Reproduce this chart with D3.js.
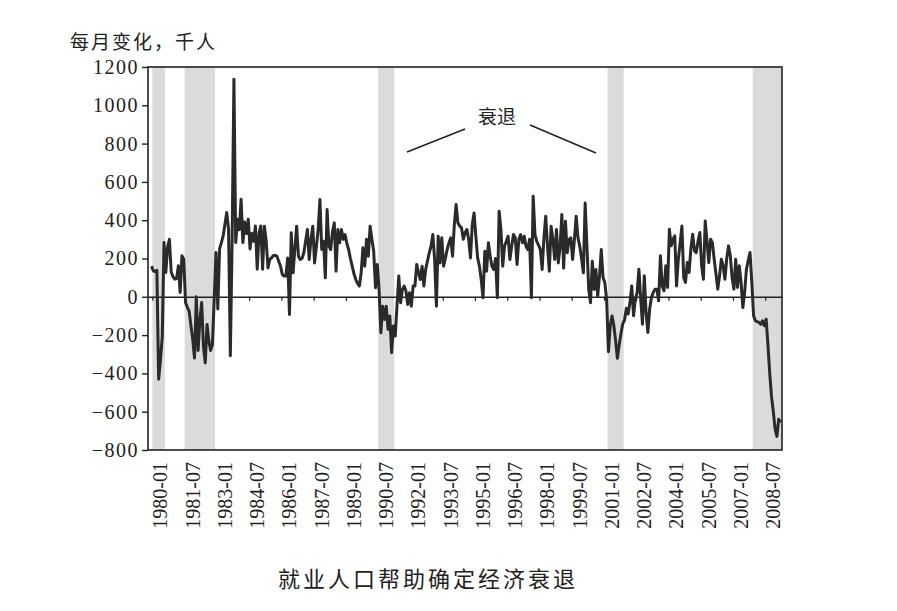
<!DOCTYPE html>
<html><head><meta charset="utf-8">
<script src="https://cdn.jsdelivr.net/npm/d3@7"></script>
<style>
html,body{margin:0;padding:0;background:#fff;}
svg{display:block;}
.serif{font-family:"Liberation Serif","Times New Roman",Times,"DejaVu Serif",serif;}
.cjk{font-family:"Noto Sans CJK SC","Noto Sans CJK TC",sans-serif;}
</style></head>
<body>
<svg id="chart" width="897" height="611"></svg>
<script>
// ---- data (monthly change in payroll employment, thousands) ----
const firstMonth = "1979-12";
const values1979_1984 = [
  160,
  136, 132, 138, -430, -330, -210, 283, 127, 260, 300, 130, 105,
  92, 95, 162, 23, 214, 196, -30, -55, -75, -150, -220, -320,
  0, -280, -120, -30, -260, -345, -145, -230, -280, -250, -10, 231,
  -64, 250, 283, 318, 380, 440, 353, -308, 300, 1136, 283, 405,
  350, 510, 283, 390, 330, 405, 250, 330, 290, 370, 144, 330
];
const values1985_1989 = [
  370, 144, 369, 290, 151, 195, 203, 216, 216, 212, 185, 160,
  117, 108, 108, 203, -92, 334, 125, 250, 369, 212, 195, 200,
  230, 290, 351, 195, 300, 369, 177, 260, 351, 508, 247, 290,
  99, 456, 264, 247, 340, 386, 134, 351, 282, 351, 300, 325,
  280, 247, 200, 160, 120, 90, 70, 56, 125, 256, 160, 300
];
const values1990_1994 = [
  212, 369, 300, 238, 47, 169, 38, -188, -49, -118, -49, -170,
  -100, -292, -153, -205, -49, 108, -31, 38, 56, 30, -40, 21,
  -49, 56, 56, 169, 125, 90, 160, 56, 143, 186, 230, 264,
  325, 195, -49, 316, 177, 308, 160, 200, 247, 282, 308, 212,
  377, 482, 386, 370, 360, 300, 334, 351, 300, 203, 377, 438
];
const values1995_1999 = [
  316, 203, 160, 90, -5, 238, 134, 282, 212, 160, 143, 200,
  -5, 447, 351, 160, 264, 290, 316, 195, 264, 325, 308, 169,
  300, 325, 282, 316, 264, 247, 300, -5, 525, 325, 290, 270,
  247, 143, 308, 421, 264, 134, 369, 300, 195, 351, 177, 260,
  430, 150, 395, 230, 300, 308, 195, 300, 421, 308, 264, 200
];
const values2000_2004 = [
  125, 490, 264, 38, -31, 186, 38, 143, 3, 108, 247, 99,
  73, -17, -287, -150, -100, -150, -230, -321, -250, -190, -140, -121,
  -60, -90, -30, 57, -99, -12, 20, 144, -12, -143, 110, -82,
  -186, -64, -3, 23, 40, 40, -21, 214, 57, 31, 162, 49,
  353, 266, 300, 318, 57, 196, 280, 370, 100, 75, 179, 127
];
const values2005_2009 = [
  250, 327, 240, 231, 290, 336, 162, 92, 396, 290, 179, 301,
  283, 196, 120, 40, 110, 196, 162, 92, 200, 266, 214, 100,
  40, 196, 49, 162, 75, -56, 23, 144, 190, 231, 75, -99,
  -125, -130, -134, -143, -125, -151, -117, -250, -400, -520, -600, -690,
  -729, -640, -656
];
const tickLabels = ["1980-01","1981-07","1983-01","1984-07","1986-01","1987-07","1989-01",
  "1990-07","1992-01","1993-07","1995-01","1996-07","1998-01","1999-07","2001-01",
  "2002-07","2004-01","2005-07","2007-01","2008-07"];
const yTicks = [-800, -600, -400, -200, 0, 200, 400, 600, 800, 1000, 1200];
const recessions = [["1980-01","1980-07"],["1981-07","1982-11"],["1990-07","1991-03"],
  ["2001-03","2001-11"],["2007-12","2009-06"]];
const yTitle = "每月变化，千人";
const caption = "就业人口帮助确定经济衰退";
const annotation = "衰退";

// ---- helpers ----
const idx = s => { const [yy, mm] = s.split("-").map(Number); return (yy - 1980) * 12 + (mm - 1); };
const allValues = [].concat(values1979_1984, values1985_1989, values1990_1994,
  values1995_1999, values2000_2004, values2005_2009);
const start = idx(firstMonth);
const data = allValues.map((v, i) => ({ m: start + i, v }));

// ---- layout ----
const L = 148, R = 782, T = 67, B = 450;
const svg = d3.select("#chart");
svg.append("rect").attr("width", 897).attr("height", 611).attr("fill", "#fff");

const x = d3.scaleLinear().domain([-2.45, 351.35]).range([L, R]);
const y = d3.scaleLinear().domain([-800, 1200]).range([B, T]);

// recession shading
const xMax = x.domain()[1];
svg.append("g").selectAll("rect").data(recessions).join("rect")
  .attr("x", d => x(idx(d[0])))
  .attr("y", T)
  .attr("width", d => x(Math.min(idx(d[1]) + 1, xMax)) - x(idx(d[0])))
  .attr("height", B - T)
  .attr("fill", "#dbdbdb");

// zero line with x ticks
const xAxis = d3.axisBottom(x).tickValues(tickLabels.map(idx)).tickSize(4)
  .tickSizeOuter(0).tickFormat("");
const gz = svg.append("g").attr("transform", `translate(0,${y(0)})`).call(xAxis);
gz.select(".domain").attr("stroke", "#222").attr("stroke-width", 1.5);
gz.selectAll(".tick line").attr("stroke", "#222").attr("stroke-width", 1.2);

// data line
const line = d3.line().x(d => x(d.m + 0.5)).y(d => y(d.v));
svg.append("path").datum(data).attr("d", line)
  .attr("fill", "none").attr("stroke", "#2a2a2a").attr("stroke-width", 3)
  .attr("stroke-linejoin", "round");

// frame
svg.append("rect").attr("x", L).attr("y", T).attr("width", R - L).attr("height", B - T)
  .attr("fill", "none").attr("stroke", "#222").attr("stroke-width", 1.6);

// y axis
const yAxis = d3.axisLeft(y).tickValues(yTicks).tickSize(6).tickPadding(3)
  .tickFormat(d3.format("d"));
const gy = svg.append("g").attr("transform", `translate(${L},0)`).call(yAxis);
gy.attr("font-family", null).attr("font-size", null);
gy.select(".domain").remove();
gy.selectAll(".tick line").attr("stroke", "#222").attr("stroke-width", 1.4);
gy.selectAll(".tick text").attr("class", "serif")
  .attr("font-size", 20).attr("fill", "#222").attr("letter-spacing", "1.5px");

// x labels (rotated)
svg.append("g").selectAll("text").data(tickLabels).join("text")
  .attr("class", "serif")
  .attr("transform", d => `translate(${x(idx(d)) + 8},462) rotate(-90)`)
  .attr("text-anchor", "end").attr("dy", "0.35em")
  .attr("font-size", 20).attr("fill", "#222")
  .text(d => d);

// y title
svg.append("text").attr("class", "cjk").attr("x", 70).attr("y", 49).text(yTitle)
  .attr("font-size", 19).attr("letter-spacing", "2px").attr("fill", "#222");

// caption
svg.append("text").attr("class", "cjk").attr("x", 428).attr("y", 587)
  .attr("text-anchor", "middle").text(caption)
  .attr("font-size", 22).attr("letter-spacing", "3px").attr("fill", "#222");

// annotation
svg.append("text").attr("class", "cjk").attr("x", 497).attr("y", 124)
  .attr("text-anchor", "middle").text(annotation)
  .attr("font-size", 19).attr("fill", "#222");
const annLines = [[407, 152, 465, 129], [530, 125, 596, 153]];
svg.append("g").selectAll("line").data(annLines).join("line")
  .attr("x1", d => d[0]).attr("y1", d => d[1]).attr("x2", d => d[2]).attr("y2", d => d[3])
  .attr("stroke", "#222").attr("stroke-width", 1.6);
</script>
</body></html>
